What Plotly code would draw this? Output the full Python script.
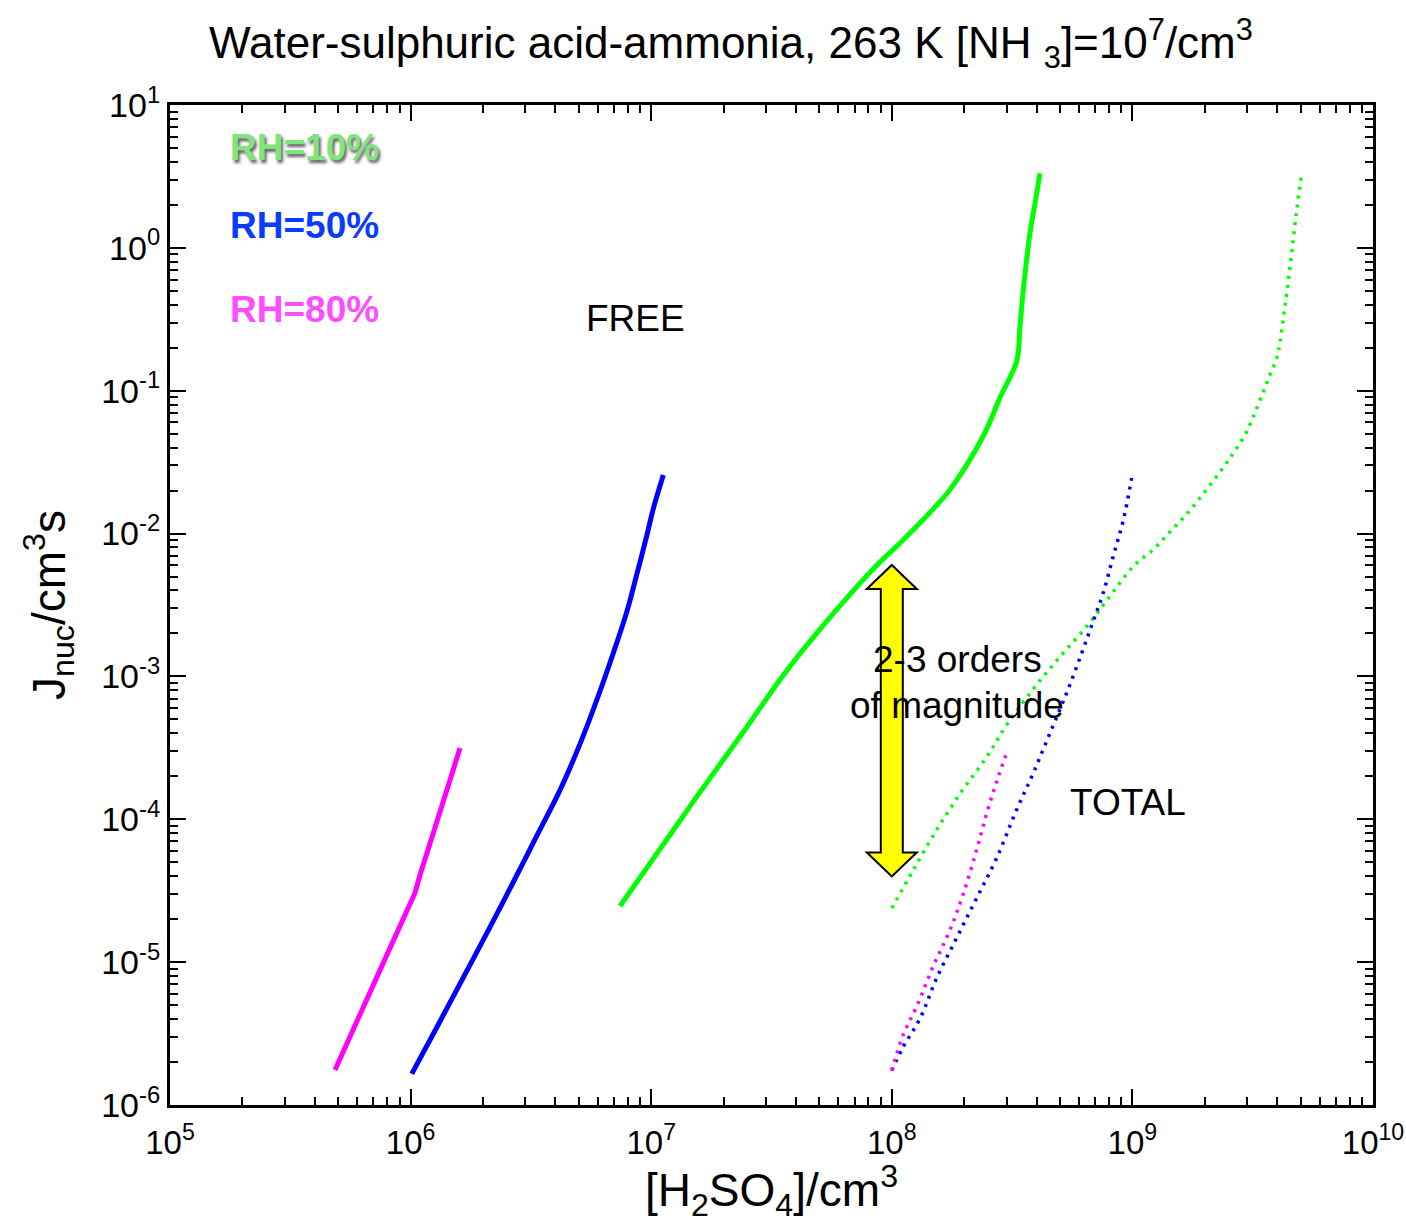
import math
import plotly.graph_objects as go

# ---- nucleation rate curves: [H2SO4] (cm^-3) vs J_nuc (cm^-3 s^-1) ----
# free (solid) curves
free_rh10_x = [7.42e6, 1.16e7, 1.595e7, 2.414e7, 3.54e7, 4.875e7, 6.92e7, 8.93e7,
               1.082e8, 1.488e8, 1.745e8, 2.40e8, 2.818e8, 3.306e8, 3.41e8, 3.52e8,
               3.753e8, 3.94e8, 4.13e8]
free_rh10_y = [2.47e-5, 7.20e-5, 1.55e-4, 4.08e-4, 1.02e-3, 2.01e-3, 3.99e-3, 6.32e-3,
               8.59e-3, 1.49e-2, 2.03e-2, 4.82e-2, 8.96e-2, 0.1614, 0.2806, 0.507,
               1.27, 2.06, 3.32]

free_rh50_x = [1.011e6, 1.284e6, 1.656e6, 2.138e6, 2.673e6, 3.343e6, 4.178e6, 5.06e6,
               5.94e6, 6.96e6, 7.91e6, 8.70e6, 9.58e6, 1.02e7, 1.123e7]
free_rh50_y = [1.65e-6, 3.49e-6, 7.81e-6, 1.76e-5, 3.64e-5, 7.64e-5, 1.60e-4, 3.37e-4,
               6.84e-4, 1.46e-3, 2.82e-3, 5.13e-3, 9.62e-3, 1.49e-2, 2.57e-2]

free_rh80_x = [4.85e5, 6.16e5, 7.96e5, 1.043e6, 1.094e6, 1.239e6, 1.413e6, 1.605e6]
free_rh80_y = [1.76e-6, 4.20e-6, 1.12e-5, 3.05e-5, 4.07e-5, 7.89e-5, 1.60e-4, 3.15e-4]

# total (dotted) curves
total_rh10_x = [1.0e8, 1.229e8, 1.537e8, 1.921e8, 2.48e8, 3.00e8, 3.874e8, 4.996e8,
                6.45e8, 7.81e8, 1.008e9, 1.24e9, 1.433e9, 1.682e9, 1.971e9, 2.312e9,
                2.627e9, 2.938e9, 3.18e9, 3.50e9, 3.73e9, 3.98e9, 4.11e9, 4.24e9,
                4.38e9, 4.59e9, 4.82e9, 5.05e9]
total_rh10_y = [2.39e-5, 4.42e-5, 8.45e-5, 1.51e-4, 2.73e-4, 4.57e-4, 8.17e-4, 1.37e-3,
                2.23e-3, 3.39e-3, 5.88e-3, 7.93e-3, 1.03e-2, 1.37e-2, 1.90e-2, 2.70e-2,
                3.66e-2, 4.90e-2, 6.58e-2, 9.84e-2, 0.129, 0.169, 0.219, 0.323,
                0.483, 0.920, 1.84, 3.29]

total_rh50_x = [1.0e8, 1.116e8, 1.31e8, 1.537e8, 1.861e8, 2.253e8, 2.729e8, 3.305e8,
                3.874e8, 4.545e8, 5.33e8, 6.16e8, 6.88e8, 7.57e8, 8.33e8, 9.17e8, 9.93e8]
total_rh50_y = [1.74e-6, 2.56e-6, 4.03e-6, 7.74e-6, 1.48e-5, 2.81e-5, 5.37e-5, 1.17e-4,
                2.11e-4, 4.02e-4, 7.66e-4, 1.46e-3, 2.45e-3, 3.86e-3, 6.97e-3, 1.245e-2,
                2.45e-2]

total_rh80_x = [1.0e8, 1.116e8, 1.269e8, 1.488e8, 1.745e8, 1.982e8, 2.253e8, 2.48e8,
                2.729e8, 3.00e8]
total_rh80_y = [1.74e-6, 3.11e-6, 4.89e-6, 9.40e-6, 1.68e-5, 3.00e-5, 6.12e-5, 1.10e-4,
                1.84e-4, 2.91e-4]

# axis decades and labels
x_decades = [5, 6, 7, 8, 9, 10]
y_decades = [-6, -5, -4, -3, -2, -1, 0, 1]
x_ticktext = ["10<sup>%d</sup>" % d for d in x_decades]
y_ticktext = ["10<sup>%d</sup>" % d for d in y_decades]

# arrow spanning the gap between free and total rates
arrow_x = 1.0e8
arrow_y_top = 10 ** -2.22
arrow_y_bottom = 10 ** -4.40

GREEN = "#00ff00"
BLUE = "#0000ff"
MAGENTA = "#ff00ff"
FONT = "Liberation Sans, Arial, sans-serif"

W, H = 1406, 1223
ML, MR, MT, MB = 170, 33, 105, 118
PW, PH = W - ML - MR, H - MT - MB
XR = (5, 10)
YR = (-6, 1)


def xpaper(v):
    return (math.log10(v) - XR[0]) / (XR[1] - XR[0])


def ypaper(v):
    return (math.log10(v) - YR[0]) / (YR[1] - YR[0])


def px_x(p):
    return (p - ML) / PW


def px_y(p):
    return (H - MB - p) / PH


fig = go.Figure()

for xs, ys, col, lw, shape in [(free_rh10_x, free_rh10_y, GREEN, 5, "spline"),
                               (free_rh50_x, free_rh50_y, BLUE, 5, "spline"),
                               (free_rh80_x, free_rh80_y, MAGENTA, 5, "linear")]:
    fig.add_trace(go.Scatter(x=xs, y=ys, mode="lines",
                             line=dict(color=col, width=lw, shape=shape, smoothing=1.0),
                             showlegend=False))

for xs, ys, col in [(total_rh10_x, total_rh10_y, GREEN),
                    (total_rh50_x, total_rh50_y, BLUE),
                    (total_rh80_x, total_rh80_y, MAGENTA)]:
    fig.add_trace(go.Scatter(x=xs, y=ys, mode="lines",
                             line=dict(color=col, width=3.5, dash="3px,6px",
                                       shape="spline", smoothing=1.0),
                             showlegend=False))

minor_x = [m * 10 ** d for d in x_decades[:-1] for m in range(2, 10)]
minor_y = [m * 10 ** d for d in y_decades[:-1] for m in range(2, 10)]

axis_common = dict(
    type="log", showline=True, linewidth=3, linecolor="black", mirror="allticks",
    ticks="inside", ticklen=16, tickwidth=2, tickcolor="black",
    showgrid=False, zeroline=False, automargin=False,
)

fig.update_xaxes(
    range=list(XR), tickmode="array",
    tickvals=[10 ** d for d in x_decades], ticktext=x_ticktext,
    tickfont=dict(family=FONT, size=33, color="black"), ticklabelstandoff=6,
    minor=dict(tickmode="array", tickvals=minor_x, ticks="inside", ticklen=8,
               tickwidth=2, tickcolor="black", showgrid=False),
    title=dict(text="[H<sub>2</sub>SO<sub>4</sub>]/cm<sup>3</sup>",
               font=dict(family=FONT, size=46, color="black"), standoff=12),
    **axis_common,
)
fig.update_yaxes(
    range=list(YR), tickmode="array",
    tickvals=[10 ** d for d in y_decades], ticktext=y_ticktext,
    tickfont=dict(family=FONT, size=34, color="black"),
    minor=dict(tickmode="array", tickvals=minor_y, ticks="inside", ticklen=8,
               tickwidth=2, tickcolor="black", showgrid=False),
    title=dict(text="J<sub>nuc</sub>/cm<sup>3</sup>s",
               font=dict(family=FONT, size=46, color="black"), standoff=22),
    **axis_common,
)

# double-headed arrow, built in paper units around its data anchor
cx = xpaper(arrow_x)
yt = ypaper(arrow_y_top)
yb = ypaper(arrow_y_bottom)
shaft = 11.0 / PW
head = 25.0 / PW
hlen = 24.0 / PH
path = (f"M {cx},{yt} L {cx + head},{yt - hlen} L {cx + shaft},{yt - hlen} "
        f"L {cx + shaft},{yb + hlen} L {cx + head},{yb + hlen} L {cx},{yb} "
        f"L {cx - head},{yb + hlen} L {cx - shaft},{yb + hlen} L {cx - shaft},{yt - hlen} "
        f"L {cx - head},{yt - hlen} Z")
fig.add_shape(type="path", path=path, xref="paper", yref="paper",
              fillcolor="#ffff00", line=dict(color="black", width=2), layer="above")

labels = [
    ("RH=10%", 228, 147, "#80e47f", "2px 3px 3px rgba(60,60,60,0.8)"),
    ("RH=50%", 228, 225, "#0a3cff", None),
    ("RH=80%", 228, 309, "#ff4dff", None),
]
for txt, x0, y0, col, shadow in labels:
    f = dict(family=FONT, size=37, color=col, weight="bold")
    if shadow:
        f["shadow"] = shadow
    fig.add_annotation(text=txt, x=px_x(x0), y=px_y(y0), xref="paper", yref="paper",
                       xanchor="left", yanchor="middle", showarrow=False, font=f)

for txt, x0, y0 in [("FREE", 635, 318), ("TOTAL", 1128, 802),
                    ("2-3 orders", 957, 660), ("of magnitude", 957, 705)]:
    fig.add_annotation(text=txt, x=px_x(x0), y=px_y(y0), xref="paper", yref="paper",
                       xanchor="center", yanchor="middle", showarrow=False,
                       font=dict(family=FONT, size=37, color="black"))

fig.update_layout(
    width=W, height=H,
    margin=dict(l=ML, r=MR, t=MT, b=MB, autoexpand=False),
    paper_bgcolor="white", plot_bgcolor="white",
    title=dict(text="Water-sulphuric acid-ammonia, 263 K [NH <sub>3</sub>]=10<sup>7</sup>/cm<sup>3</sup>",
               x=731 / W, xref="container", xanchor="center",
               y=1 - 43 / H, yref="container", yanchor="middle",
               font=dict(family=FONT, size=44, color="black")),
)

fig.write_html("out.html")
